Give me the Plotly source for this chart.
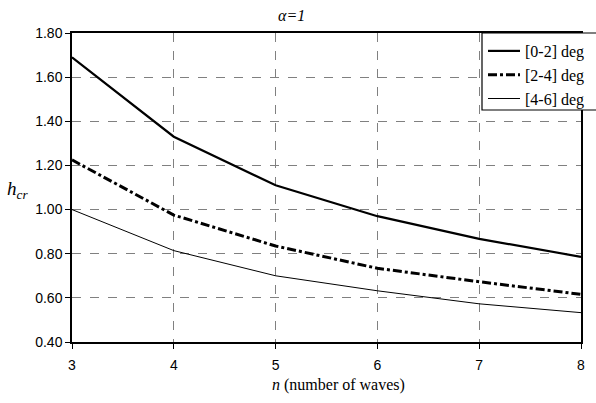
import plotly.graph_objects as go

n_waves = [3, 4, 5, 6, 7, 8]
h_0_2 = [1.69, 1.33, 1.11, 0.97, 0.867, 0.786]
h_2_4 = [1.225, 0.975, 0.835, 0.734, 0.673, 0.616]
h_4_6 = [1.00, 0.814, 0.70, 0.632, 0.573, 0.533]
names = ["[0-2] deg", "[2-4] deg", "[4-6] deg"]
y_ticks = [0.40, 0.60, 0.80, 1.00, 1.20, 1.40, 1.60, 1.80]

SERIF = "Liberation Serif"
SANS = "Arial"

fig = go.Figure()
fig.add_trace(go.Scatter(x=n_waves, y=h_0_2, mode="lines", name=names[0],
                         line=dict(color="black", width=2.2)))
fig.add_trace(go.Scatter(x=n_waves, y=h_2_4, mode="lines", name=names[1],
                         line=dict(color="black", width=3, dash="dashdot")))
fig.add_trace(go.Scatter(x=n_waves, y=h_4_6, mode="lines", name=names[2],
                         line=dict(color="black", width=1)))

L, R, T, B = 72, 15, 33, 61
W, H = 596, 403
pw = W - L - R
ph = H - T - B

def px(xp):
    return (xp - L) / pw

def py(yp):
    return 1 - (yp - T) / ph

fig.update_layout(
    width=W, height=H,
    margin=dict(l=L, r=R, t=T, b=B, autoexpand=False),
    plot_bgcolor="white", paper_bgcolor="white",
    showlegend=True,
    legend=dict(
        x=px(483), y=py(34), xanchor="left", yanchor="top",
        bgcolor="rgba(0,0,0,0)", borderwidth=0,
        font=dict(family=SERIF, size=16, color="black"),
        tracegroupgap=0, itemwidth=32,
    ),
    xaxis=dict(
        range=[3, 8], tickvals=n_waves, showline=True, linecolor="black", linewidth=1.5,
        mirror=True, ticks="outside", ticklen=5, tickcolor="black",
        showgrid=True, gridcolor="#808080", griddash="dash", gridwidth=1,
        zeroline=False, ticklabelstandoff=4,
        tickfont=dict(family=SANS, size=14, color="black"),
    ),
    yaxis=dict(
        range=[0.40, 1.80], tickvals=y_ticks, ticktext=[f"{v:.2f}" for v in y_ticks],
        showline=True, linecolor="black", linewidth=1.5, mirror=True,
        ticks="outside", ticklen=5, tickcolor="black",
        showgrid=True, gridcolor="#808080", griddash="dash", gridwidth=1,
        zeroline=False,
        tickfont=dict(family=SANS, size=14, color="black"),
    ),
)

# legend frame extending past the right edge, as in the reference
fig.add_shape(type="rect", xref="paper", yref="paper",
              x0=px(482), x1=px(620), y0=py(110), y1=py(33),
              line=dict(color="black", width=1.2), fillcolor="white", layer="above")

fig.add_annotation(text="<i>α=1</i>", xref="paper", yref="paper",
                   x=px(291), y=py(15), showarrow=False,
                   xanchor="center", yanchor="middle",
                   font=dict(family=SERIF, size=16, color="black"))
fig.add_annotation(text="<i>h</i><sub><i>cr</i></sub>", xref="paper", yref="paper",
                   x=px(17), y=py(190), showarrow=False,
                   xanchor="center", yanchor="middle",
                   font=dict(family=SERIF, size=19, color="black"))
fig.add_annotation(text="<i>n</i> (number of waves)", xref="paper", yref="paper",
                   x=px(338), y=py(385), showarrow=False,
                   xanchor="center", yanchor="middle",
                   font=dict(family=SERIF, size=16, color="black"))

fig.write_html("out.html")
